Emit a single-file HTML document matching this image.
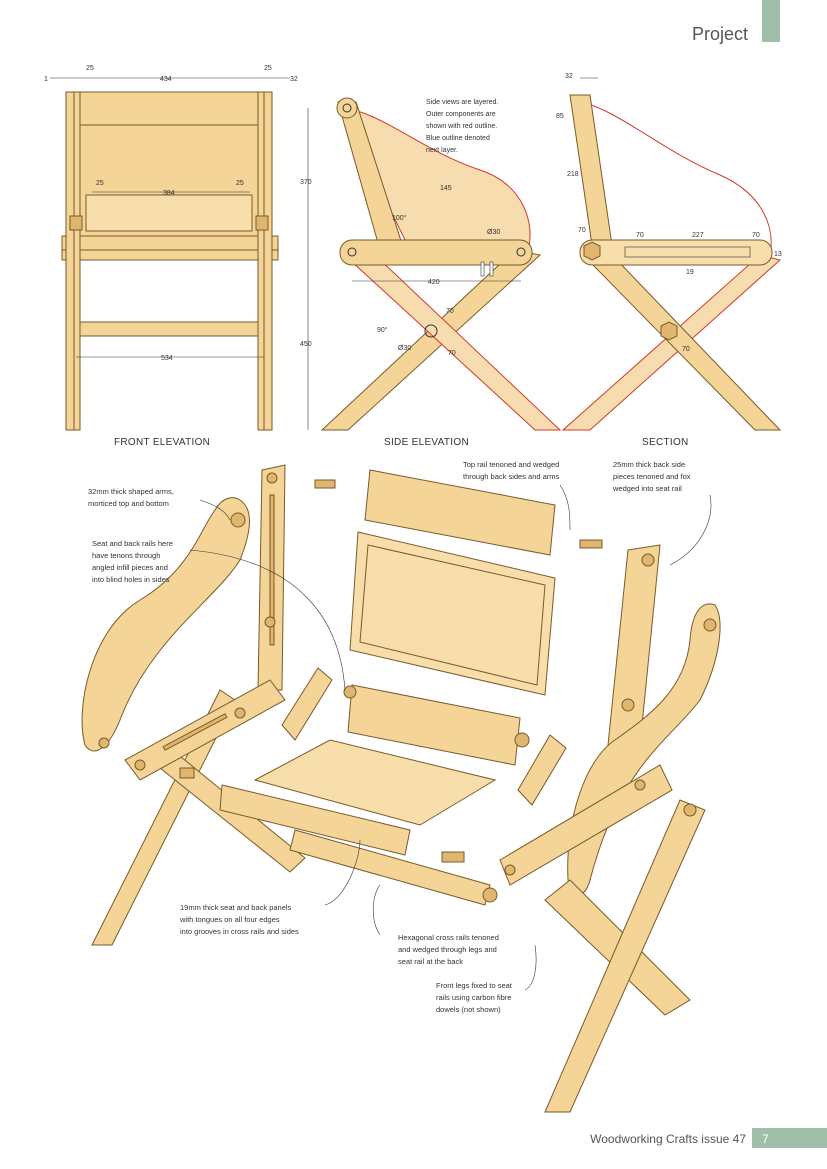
<!DOCTYPE html>
<html><head><meta charset="utf-8"><style>
html,body{margin:0;padding:0;background:#fff}
svg{display:block}
text{font-family:"Liberation Sans",sans-serif}
.w{fill:#f4d497;stroke:#7a5a2a;stroke-width:1}
.d{fill:#e0b56e;stroke:#7a5a2a;stroke-width:1}
.l{fill:#f8deaa;stroke:#7a5a2a;stroke-width:1}
.r{fill:#f6dcae;stroke:#d23a2a;stroke-width:1}
.dim{stroke:#333;stroke-width:0.6;fill:none}
.t{font-size:7px;fill:#333}
.c{font-size:7.5px;fill:#333}
.h{font-size:10px;fill:#333;letter-spacing:0.3px}
</style></head><body>
<svg width="827" height="1169" viewBox="0 0 827 1169" xmlns="http://www.w3.org/2000/svg">
<rect width="827" height="1169" fill="#fff"/>
<rect x="762" y="0" width="18" height="42" fill="#9fbfa9"/>
<text x="748" y="40" font-size="18" fill="#555" text-anchor="end">Project</text>
<text x="746" y="1143" font-size="12" fill="#555" text-anchor="end">Woodworking Crafts issue 47</text>
<rect x="752" y="1128" width="75" height="20" fill="#9fbfa9"/>
<text x="762" y="1143" font-size="12" fill="#fff">7</text>

<g>
<rect class="w" x="80" y="92" width="178" height="33"/>
<rect class="w" x="80" y="125" width="178" height="111"/>
<rect class="l" x="86" y="195" width="166" height="36"/>
<rect class="w" x="62" y="236" width="216" height="14"/>
<rect class="w" x="62" y="250" width="216" height="10"/>
<rect class="w" x="80" y="322" width="178" height="14"/>
<rect class="w" x="66" y="92" width="8" height="338"/>
<rect class="w" x="74" y="92" width="6" height="338"/>
<rect class="w" x="258" y="92" width="6" height="338"/>
<rect class="w" x="264" y="92" width="8" height="338"/>
<rect class="d" x="70" y="216" width="12" height="14"/><rect class="d" x="256" y="216" width="12" height="14"/>
<line class="dim" x1="50" y1="78" x2="290" y2="78"/>
<line class="dim" x1="92" y1="192" x2="250" y2="192"/>
<line class="dim" x1="76" y1="357" x2="264" y2="357"/>
<text class="t" x="86" y="70">25</text><text class="t" x="160" y="81">434</text><text class="t" x="264" y="70">25</text><text class="t" x="290" y="81">32</text><text class="t" x="44" y="81">1</text>
<text class="t" x="96" y="185">25</text><text class="t" x="163" y="195">384</text><text class="t" x="236" y="185">25</text>
<text class="t" x="161" y="360">534</text>
<text class="h" x="114" y="445">FRONT ELEVATION</text>
</g>

<g>
<path class="r" d="M340,108 C380,110 420,150 480,170 C525,185 535,225 528,250 L410,250 Z"/>
<polygon class="w" points="338,102 356,102 404,250 380,250"/>
<circle class="w" cx="347" cy="108" r="10"/><circle cx="347" cy="108" r="4" fill="none" stroke="#333"/>
<polygon class="w" points="322,430 348,430 540,255 515,250"/>
<polygon class="r" points="350,260 375,255 560,430 535,430"/>
<rect class="w" x="340" y="240" width="192" height="25" rx="12"/>
<circle cx="352" cy="252" r="4" fill="none" stroke="#333"/><circle cx="521" cy="252" r="4" fill="none" stroke="#333"/>
<circle cx="431" cy="331" r="6" fill="none" stroke="#333"/>
<rect x="481" y="262" width="3" height="14" fill="#fff" stroke="#333" stroke-width="0.6"/><rect x="490" y="262" width="3" height="14" fill="#fff" stroke="#333" stroke-width="0.6"/>
<line class="dim" x1="308" y1="108" x2="308" y2="252"/><line class="dim" x1="308" y1="252" x2="308" y2="430"/>
<line class="dim" x1="352" y1="281" x2="521" y2="281"/>
<text class="t" x="300" y="184">370</text><text class="t" x="300" y="346">450</text><text class="t" x="428" y="284">420</text>
<text class="t" x="440" y="190">145</text><text class="t" x="392" y="220">100°</text><text class="t" x="487" y="234">Ø30</text>
<text class="t" x="446" y="313">70</text><text class="t" x="377" y="332">90°</text><text class="t" x="398" y="350">Ø30</text><text class="t" x="448" y="355">70</text>
<text class="t" x="426" y="104">Side views are layered.</text>
<text class="t" x="426" y="116">Outer components are</text>
<text class="t" x="426" y="128">shown with red outline.</text>
<text class="t" x="426" y="140">Blue outline denoted</text>
<text class="t" x="426" y="152">next layer.</text>
<text class="h" x="384" y="445">SIDE ELEVATION</text>
</g>

<g>
<path d="M575,100 C620,110 660,150 720,175 C765,195 775,230 770,255" fill="none" stroke="#d23a2a"/>
<polygon class="r" points="563,430 590,430 780,260 760,255"/>
<polygon class="w" points="590,262 615,258 780,430 755,430"/>
<polygon class="w" points="570,95 590,95 612,245 592,245"/>
<rect class="l" x="580" y="240" width="192" height="25" rx="12" stroke="#d23a2a"/>
<rect x="625" y="247" width="125" height="10" fill="none" stroke="#333" stroke-width="0.6"/>
<polygon class="d" points="584,246 592,242 600,246 600,256 592,260 584,256"/>
<polygon class="d" points="661,326 669,322 677,326 677,336 669,340 661,336"/>
<line class="dim" x1="580" y1="78" x2="598" y2="78"/>
<text class="t" x="565" y="78">32</text><text class="t" x="556" y="118">85</text><text class="t" x="567" y="176">218</text>
<text class="t" x="578" y="232">70</text><text class="t" x="636" y="237">70</text><text class="t" x="692" y="237">227</text><text class="t" x="752" y="237">70</text>
<text class="t" x="686" y="274">19</text><text class="t" x="774" y="256">13</text><text class="t" x="682" y="351">70</text>
<text class="h" x="642" y="445">SECTION</text>
</g>

<g>
<polygon class="w" points="92,945 112,945 235,700 220,690"/>
<polygon class="w" points="150,760 170,748 305,858 290,872"/>
<path class="w" d="M240,500 C255,510 250,535 240,560 C215,600 150,640 120,720 C110,745 95,760 85,745 C75,710 90,630 140,600 C190,570 200,530 215,510 C222,498 232,495 240,500 Z"/>
<circle class="d" cx="238" cy="520" r="7"/><circle class="d" cx="104" cy="743" r="5"/>
<polygon class="w" points="262,470 285,465 282,690 258,690"/>
<rect class="d" x="270" y="495" width="4" height="150"/>
<circle class="d" cx="272" cy="478" r="5"/><circle class="d" cx="270" cy="622" r="5"/>
<polygon class="w" points="125,760 270,680 285,700 140,780"/>
<rect class="d" x="160" y="730" width="70" height="4" transform="rotate(-28 195 732)"/>
<circle class="d" cx="240" cy="713" r="5"/><circle class="d" cx="140" cy="765" r="5"/>
<polygon class="w" points="282,725 318,668 332,680 295,740"/>
<polygon class="w" points="518,790 550,735 566,748 532,805"/>
<polygon class="w" points="370,470 555,505 550,555 365,520"/>
<rect class="d" x="315" y="480" width="20" height="8"/><rect class="d" x="580" y="540" width="22" height="8"/>
<polygon class="l" points="358,532 555,578 545,695 350,650"/>
<polygon points="368,545 545,585 537,685 360,642" fill="none" stroke="#7a5a2a"/>
<polygon class="w" points="352,685 520,718 515,765 348,732"/>
<circle class="d" cx="350" cy="692" r="6"/><circle class="d" cx="522" cy="740" r="7"/>
<polygon class="l" points="255,780 330,740 495,780 420,825"/>
<polygon class="w" points="222,785 410,830 405,855 220,810"/>
<polygon class="w" points="295,830 490,885 485,905 290,850"/>
<circle class="d" cx="490" cy="895" r="7"/>
<rect class="d" x="180" y="768" width="14" height="10"/><rect class="d" x="442" y="852" width="22" height="10"/>
<polygon class="w" points="628,550 660,545 640,745 608,745"/>
<circle class="d" cx="648" cy="560" r="6"/><circle class="d" cx="628" cy="705" r="6"/>
<path class="w" d="M715,605 C725,620 720,660 700,700 C670,740 620,765 590,880 C585,900 570,900 568,880 C565,820 585,760 615,740 C650,715 685,690 690,640 C692,612 702,600 715,605 Z"/>
<circle class="d" cx="710" cy="625" r="6"/>
<polygon class="w" points="500,860 660,765 672,790 510,885"/>
<circle class="d" cx="640" cy="785" r="5"/><circle class="d" cx="510" cy="870" r="5"/>
<polygon class="w" points="545,900 570,880 690,1000 665,1015"/>
<polygon class="w" points="545,1112 570,1112 705,810 680,800"/>
<circle class="d" cx="690" cy="810" r="6"/>
</g>

<g>
<text class="c" x="463" y="467">Top rail tenoned and wedged</text>
<text class="c" x="463" y="479">through back sides and arms</text>
<text class="c" x="613" y="467">25mm thick back side</text>
<text class="c" x="613" y="479">pieces tenoned and fox</text>
<text class="c" x="613" y="491">wedged into seat rail</text>
<text class="c" x="88" y="494">32mm thick shaped arms,</text>
<text class="c" x="88" y="506">morticed top and bottom</text>
<text class="c" x="92" y="546">Seat and back rails here</text>
<text class="c" x="92" y="558">have tenons through</text>
<text class="c" x="92" y="570">angled infill pieces and</text>
<text class="c" x="92" y="582">into blind holes in sides</text>
<text class="c" x="180" y="910">19mm thick seat and back panels</text>
<text class="c" x="180" y="922">with tongues on all four edges</text>
<text class="c" x="180" y="934">into grooves in cross rails and sides</text>
<text class="c" x="398" y="940">Hexagonal cross rails tenoned</text>
<text class="c" x="398" y="952">and wedged through legs and</text>
<text class="c" x="398" y="964">seat rail at the back</text>
<text class="c" x="436" y="988">Front legs fixed to seat</text>
<text class="c" x="436" y="1000">rails using carbon fibre</text>
<text class="c" x="436" y="1012">dowels (not shown)</text>
</g>
<g class="dim">
<path d="M200,500 C215,505 225,510 230,520"/>
<path d="M190,550 C300,560 340,620 345,690"/>
<path d="M560,485 C570,500 570,515 570,530"/>
<path d="M710,495 C715,520 700,550 670,565"/>
<path d="M325,905 C345,900 360,860 360,840"/>
<path d="M380,935 C370,920 372,895 380,885"/>
<path d="M525,990 C535,985 538,965 535,945"/>
</g>
</svg>
</body></html>
